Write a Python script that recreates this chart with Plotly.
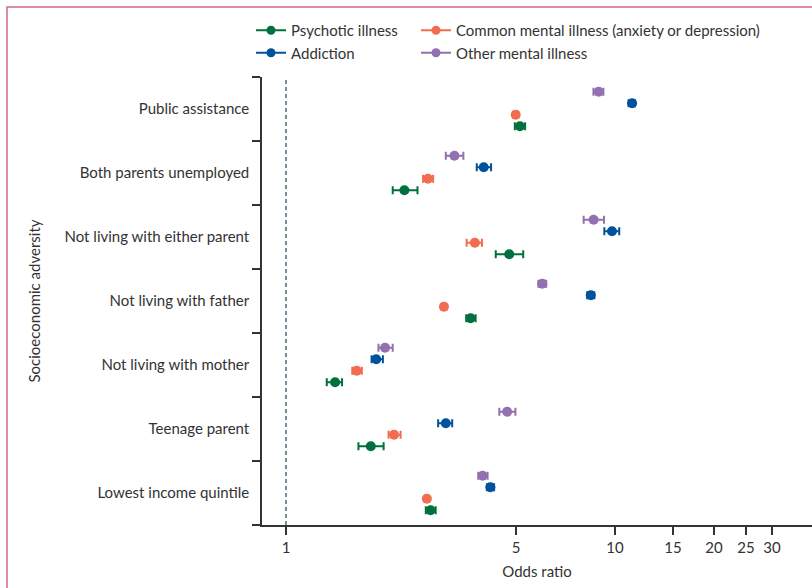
import plotly.graph_objects as go

categories = ["Lowest income quintile", "Teenage parent", "Not living with mother",
              "Not living with father", "Not living with either parent",
              "Both parents unemployed", "Public assistance"]

series_names = ["Psychotic illness", "Common mental illness (anxiety or depression)",
                "Addiction", "Other mental illness"]

# odds ratio, lower CI, upper CI (bottom category first)
psychotic_or = [2.75, 1.81, 1.41, 3.64, 4.77, 2.29, 5.14]
psychotic_lo = [2.66, 1.66, 1.33, 3.53, 4.34, 2.11, 4.96]
psychotic_hi = [2.85, 1.98, 1.48, 3.77, 5.26, 2.51, 5.33]

common_or = [2.68, 2.13, 1.64, 3.02, 3.75, 2.70, 4.99]
common_lo = [2.64, 2.05, 1.59, 2.97, 3.54, 2.61, 4.90]
common_hi = [2.72, 2.23, 1.70, 3.07, 3.94, 2.80, 5.08]

addiction_or = [4.18, 3.06, 1.88, 8.44, 9.79, 3.99, 11.27]
addiction_lo = [4.08, 2.90, 1.82, 8.23, 9.28, 3.80, 11.00]
addiction_hi = [4.29, 3.20, 1.97, 8.65, 10.30, 4.20, 11.50]

other_or = [3.96, 4.70, 2.00, 6.01, 8.61, 3.25, 8.92]
other_lo = [3.84, 4.45, 1.91, 5.85, 8.03, 3.06, 8.60]
other_hi = [4.10, 4.98, 2.11, 6.18, 9.26, 3.46, 9.22]

x_tickvals = [1, 5, 10, 15, 20, 25, 30]
x_ticktext = ["1", "5", "10", "15", "20", "25", "30"]

FONT = "Lato"
TXT = "#333333"
colors = {"Psychotic illness": "#00703C",
          "Common mental illness (anxiety or depression)": "#F26C4F",
          "Addiction": "#00529B",
          "Other mental illness": "#9370AF"}
offsets = {"Psychotic illness": -0.27,
           "Common mental illness (anxiety or depression)": -0.09,
           "Addiction": 0.09,
           "Other mental illness": 0.27}
legend_of = {"Psychotic illness": "legend",
             "Addiction": "legend",
             "Common mental illness (anxiety or depression)": "legend2",
             "Other mental illness": "legend2"}

data = {
    "Psychotic illness": (psychotic_or, psychotic_lo, psychotic_hi),
    "Common mental illness (anxiety or depression)": (common_or, common_lo, common_hi),
    "Addiction": (addiction_or, addiction_lo, addiction_hi),
    "Other mental illness": (other_or, other_lo, other_hi),
}

fig = go.Figure()
for name in series_names:
    orv, lo, hi = data[name]
    c = colors[name]
    ys = [i + offsets[name] for i in range(len(categories))]
    fig.add_trace(go.Scatter(
        x=orv, y=ys, mode="markers", showlegend=False,
        marker=dict(color=c, size=10, symbol="circle"),
        error_x=dict(type="data", symmetric=False,
                     array=[h - o for h, o in zip(hi, orv)],
                     arrayminus=[o - l for o, l in zip(orv, lo)],
                     color=c, thickness=2, width=4),
    ))

# legend entries (line + marker)
for name in ["Psychotic illness", "Addiction",
             "Common mental illness (anxiety or depression)", "Other mental illness"]:
    c = colors[name]
    fig.add_trace(go.Scatter(
        x=[None], y=[None], mode="lines+markers", name=name,
        line=dict(color=c, width=2), marker=dict(color=c, size=9),
        legend=legend_of[name],
    ))

fig.add_shape(type="line", xref="x", yref="paper", x0=1, x1=1, y0=0, y1=1,
              line=dict(color="#4A6778", width=1.5, dash="4px,3px"))

# outer pink frame
fig.add_shape(type="rect", xref="paper", yref="paper",
              x0=(7 - 262) / 550, x1=1.2, y0=-0.5, y1=(525 - 7) / 448,
              line=dict(color="#D06A8C", width=1.5), layer="below")

fig.update_layout(
    width=812, height=588,
    margin=dict(l=262, r=0, t=77, b=63, autoexpand=False),
    paper_bgcolor="white", plot_bgcolor="white",
    font=dict(family=FONT, size=15, color=TXT),
    legend=dict(x=(251 - 262) / 550, y=(525 - 14) / 448, xanchor="left", yanchor="top",
                orientation="v", font=dict(size=15, color=TXT), tracegroupgap=0,
                itemwidth=30, bgcolor="rgba(0,0,0,0)"),
    legend2=dict(x=(416 - 262) / 550, y=(525 - 14) / 448, xanchor="left", yanchor="top",
                 orientation="v", font=dict(size=15, color=TXT), tracegroupgap=0,
                 itemwidth=30, bgcolor="rgba(0,0,0,0)"),
    xaxis=dict(type="log", range=[-0.073, 1.5988], automargin=False,
               tickvals=x_tickvals, ticktext=x_ticktext,
               ticks="outside", ticklen=8, tickwidth=1.5, tickcolor=TXT,
               showline=True, linecolor=TXT, linewidth=1.5,
               showgrid=False, zeroline=False,
               tickfont=dict(size=15, color=TXT),
               title=dict(text="Odds ratio", font=dict(size=15, color=TXT), standoff=12)),
    yaxis=dict(range=[-0.5, 6.5], tickvals=list(range(len(categories))), ticktext=categories,
               automargin=False,
               ticks="outside", ticklen=8, tickcolor="rgba(0,0,0,0)",
               minor=dict(tickvals=[i - 0.5 for i in range(len(categories) + 1)],
                          ticks="outside", ticklen=8, tickwidth=1.5, tickcolor=TXT,
                          showgrid=False),
               showline=True, linecolor=TXT, linewidth=1.5,
               showgrid=False, zeroline=False,
               tickfont=dict(size=15, color=TXT),
               title=dict(text="Socioeconomic adversity", font=dict(size=15, color=TXT),
                          standoff=20)),
)

fig.write_html("out.html", config={"displayModeBar": False},
               post_script="document.body.style.margin='0';document.body.style.overflow='hidden';")
